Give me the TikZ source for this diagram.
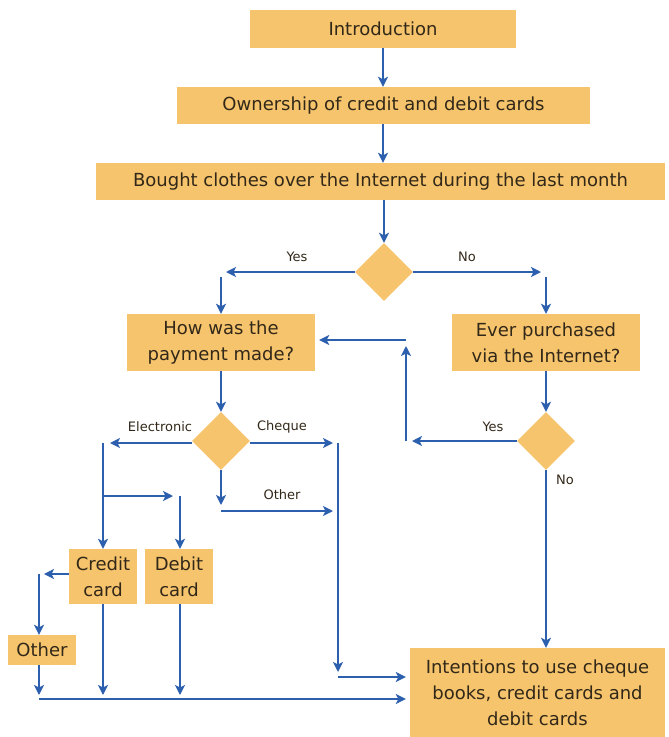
\documentclass[tikz,border=0pt]{standalone}
\usepackage{fontspec}
\setmainfont{DejaVu Sans}
\usetikzlibrary{arrows.meta,shapes.geometric}
\definecolor{boxfill}{RGB}{246,196,108}
\definecolor{arrowblue}{RGB}{45,95,175}
\definecolor{txt}{RGB}{50,40,25}
\begin{document}
\begin{tikzpicture}[x=1pt,y=-1pt,
  box/.style={fill=boxfill, text=txt, inner sep=0pt, align=center, font=\fontsize{18}{26}\selectfont},
  dia/.style={diamond, fill=boxfill, minimum width=58pt, minimum height=58pt, inner sep=0pt},
  arr/.style={draw=arrowblue, line width=2pt, -{Stealth[length=10pt,width=10pt,inset=2.5pt]}},
  lbl/.style={text=txt, font=\fontsize{13}{15}\selectfont}]
\useasboundingbox (0,0) rectangle (669,737);
% boxes
\node[box, minimum width=266pt, minimum height=38pt] (intro) at (383,29) {Introduction};
\node[box, minimum width=413pt, minimum height=37pt] (own) at (383.5,105.5) {Ownership of credit and debit cards};
\node[box, minimum width=569pt, minimum height=37pt] (bought) at (380.5,181.5) {Bought clothes over the Internet during the last month};
\node[dia] (d1) at (384,272) {};
\node[box, minimum width=188pt, minimum height=57pt] (how) at (221,342.5) {How was the\\payment made?};
\node[box, minimum width=188pt, minimum height=57pt] (ever) at (546,342.5) {Ever purchased\\via the Internet?};
\node[dia] (d2) at (546,441) {};
\node[dia] (d3) at (221,441) {};
\node[box, minimum width=68pt, minimum height=55pt] (credit) at (103,576.5) {Credit\\card};
\node[box, minimum width=68pt, minimum height=55pt] (debit) at (179,576.5) {Debit\\card};
\node[box, minimum width=68pt, minimum height=30pt] (other) at (42,650) {Other};
\node[box, minimum width=255pt, minimum height=89pt] (intent) at (537.5,692.5) {Intentions to use cheque\\books, credit cards and\\debit cards};
% junction coordinates
\coordinate (yesL) at (226,272);
\coordinate (yesT) at (221,277);
\coordinate (noR) at (541,272);
\coordinate (noT) at (546,277);
\coordinate (y2L) at (412,441);
\coordinate (y2B) at (406,441);
\coordinate (y2T) at (406,346);
\coordinate (y2H) at (406,340);
\coordinate (elL) at (110,443);
\coordinate (elT) at (103,443);
\coordinate (brL) at (103,496);
\coordinate (brR) at (173,496);
\coordinate (dbT) at (180,496);
\coordinate (chR) at (333,443);
\coordinate (chT) at (338,443);
\coordinate (chB) at (338,672);
\coordinate (chH) at (338,677);
\coordinate (otB) at (221,505);
\coordinate (otL) at (221,511);
\coordinate (otR) at (333,511);
\coordinate (crL) at (44,574);
\coordinate (crT) at (39,574);
\coordinate (obB) at (39,695);
\coordinate (cbB) at (103,695);
\coordinate (dbB) at (180,695);
\coordinate (botL) at (39,699);
% connectors
\draw[arr] (intro) -- (own.north -| intro);
\draw[arr] (own.south -| intro) -- (bought.north -| intro);
\draw[arr] (bought.south -| d1) -- (d1.north);
\draw[arr] (d1.west) -- (yesL);
\draw[arr] (yesT) -- (how.north);
\draw[arr] (d1.east) -- (noR);
\draw[arr] (noT) -- (ever.north);
\draw[arr] (how.south) -- (d3.north);
\draw[arr] (ever.south) -- (d2.north);
\draw[arr] (d2.west |- y2L) -- (y2L);
\draw[arr] (y2B) -- (y2T);
\draw[arr, shorten >=4pt] (y2H) -- (how.east |- y2H);
\draw[arr] (d2.south) -- (intent.north -| d2);
\draw[arr] (d3.west |- elL) -- (elL);
\draw[arr] (elT) -- (credit.north);
\draw[arr] (brL) -- (brR);
\draw[arr] (dbT) -- (debit.north -| dbT);
\draw[arr] (d3.east |- chR) -- (chR);
\draw[arr] (chT) -- (chB);
\draw[arr, shorten >=4pt] (chH) -- (intent.west |- chH);
\draw[arr] (d3.south) -- (otB);
\draw[arr] (otL) -- (otR);
\draw[arr] (credit.west |- crL) -- (crL);
\draw[arr] (crT) -- (other.north -| crT);
\draw[arr] (other.south -| obB) -- (obB);
\draw[arr] (credit.south) -- (cbB);
\draw[arr] (debit.south -| dbB) -- (dbB);
\draw[arr, shorten >=4pt] (botL) -- (intent.west |- botL);
% labels
\node[lbl] (lyes1) at (297,257) {Yes};
\node[lbl] (lno1) at (467,257) {No};
\node[lbl] (lyes2) at (493,427) {Yes};
\node[lbl] (lno2) at (565,480) {No};
\node[lbl] (lel) at (160,427) {Electronic};
\node[lbl] (lch) at (282,427) {Cheque};
\node[lbl] (lot) at (282,495) {Other};
\end{tikzpicture}
\end{document}
